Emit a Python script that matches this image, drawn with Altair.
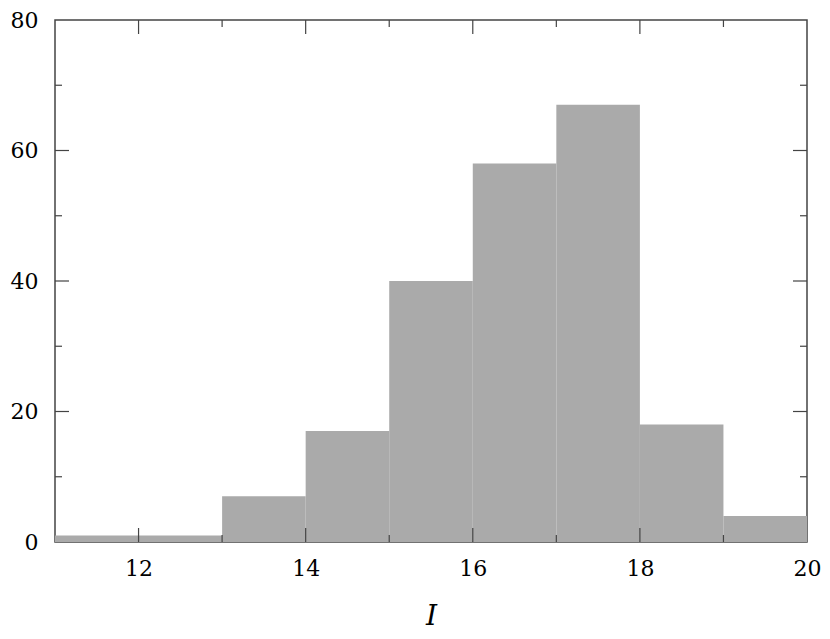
import altair as alt
import pandas as pd

bin_left = [11, 12, 13, 14, 15, 16, 17, 18, 19]
bin_right = [12, 13, 14, 15, 16, 17, 18, 19, 20]
counts = [1, 1, 7, 17, 40, 58, 67, 18, 4]

x_major = [12, 14, 16, 18]
x_minor = [13, 15, 17, 19]
y_major = [20, 40, 60]
y_minor = [10, 30, 50, 70]
x_labels = [12, 14, 16, 18, 20]
y_labels = [0, 20, 40, 60, 80]

W, H = 752, 522
FONT = "DejaVu Serif"
TICK = "#444444"
MAJ, MIN = 14, 7

bars_df = pd.DataFrame({"lo": bin_left, "hi": bin_right, "n": counts})
xs = alt.Scale(domain=[11, 20], nice=False, zero=False)
ys = alt.Scale(domain=[0, 80], nice=False)

bars = alt.Chart(bars_df).mark_rect(color="#aaaaaa").encode(
    x=alt.X("lo:Q", scale=xs, title="I",
            axis=alt.Axis(values=x_labels, format="d", tickSize=0, domain=False, grid=False,
                          labelFlush=False, labelPadding=16, labelFont=FONT,
                          labelFontSize=22, labelColor="black",
                          titleFont=FONT, titleFontSize=28, titleFontStyle="italic",
                          titleFontWeight="normal", titleColor="black", titlePadding=23)),
    x2="hi:Q",
    y=alt.Y("n:Q", scale=ys, title=None,
            axis=alt.Axis(values=y_labels, format="d", tickSize=0, domain=False, grid=False,
                          labelPadding=17, labelFont=FONT, labelFontSize=22,
                          labelColor="black")),
    y2=alt.datum(0),
)

def xticks(vals, length):
    d = pd.DataFrame({"v": vals})
    b = alt.Chart(d).mark_rule(color=TICK, strokeWidth=1.2).encode(
        x=alt.X("v:Q", scale=xs), y=alt.value(H), y2=alt.value(H - length))
    t = alt.Chart(d).mark_rule(color=TICK, strokeWidth=1.2).encode(
        x=alt.X("v:Q", scale=xs), y=alt.value(0), y2=alt.value(length))
    return [b, t]

def yticks(vals, length):
    d = pd.DataFrame({"v": vals})
    l = alt.Chart(d).mark_rule(color=TICK, strokeWidth=1.2).encode(
        y=alt.Y("v:Q", scale=ys), x=alt.value(0), x2=alt.value(length))
    r = alt.Chart(d).mark_rule(color=TICK, strokeWidth=1.2).encode(
        y=alt.Y("v:Q", scale=ys), x=alt.value(W), x2=alt.value(W - length))
    return [l, r]

layers = [bars] + xticks(x_major, MAJ) + xticks(x_minor, MIN) + yticks(y_major, MAJ) + yticks(y_minor, MIN)

chart = alt.layer(*layers).properties(
    width=W, height=H,
    autosize=alt.AutoSizeParams(type="none"),
    padding={"left": 47, "top": 12, "right": 15, "bottom": 89},
).configure(
    background="white",
    view=alt.ViewConfig(stroke="#444444", strokeWidth=1.5),
)

chart.save("out.html", embed_options={"renderer": "svg", "actions": False})
